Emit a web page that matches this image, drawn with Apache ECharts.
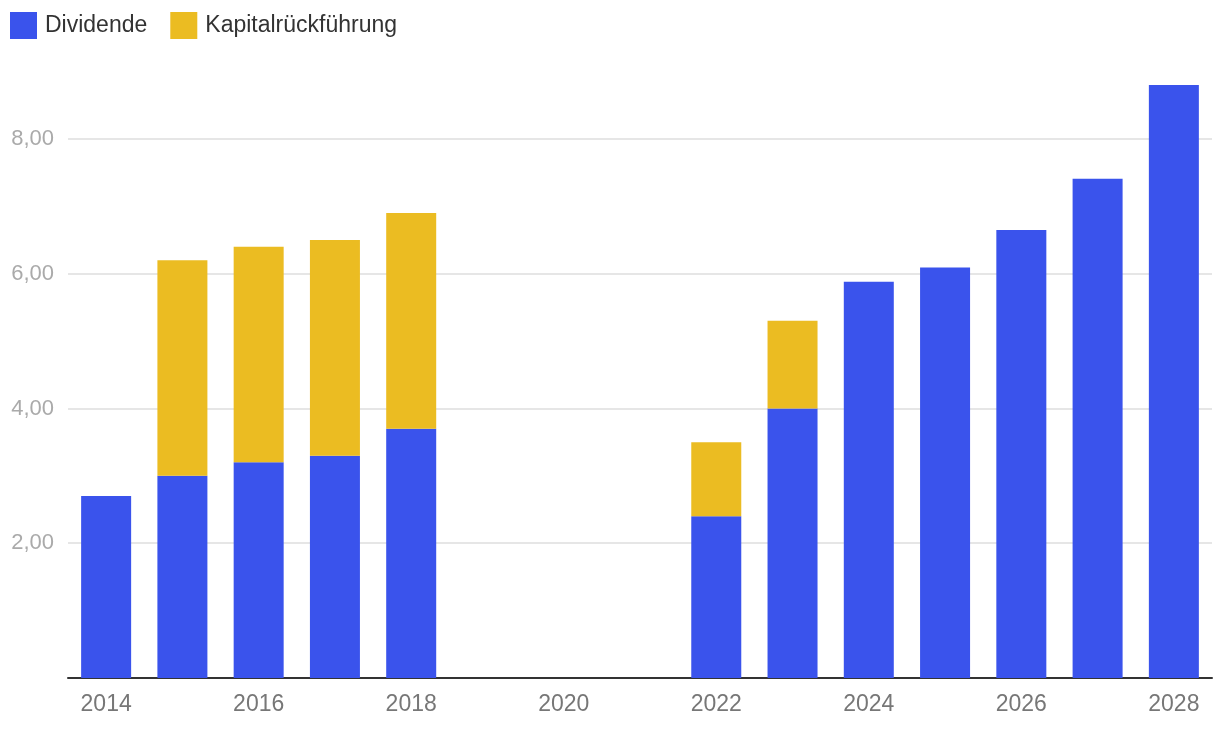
<!DOCTYPE html>
<html><head><meta charset="utf-8">
<script src="https://cdn.jsdelivr.net/npm/echarts@6/dist/echarts.min.js"></script>
<style>html,body{margin:0;padding:0;background:#fff}#c{width:1220px;height:732px}</style>
</head><body><div id="c"></div>
<script>
const years = ['2014','2015','2016','2017','2018','2019','2020','2021','2022','2023','2024','2025','2026','2027','2028'];
const dividende = [2.70, 3.00, 3.20, 3.30, 3.70, null, null, null, 2.40, 4.00, 5.88, 6.09, 6.65, 7.41, 8.80];
const kapital = [null, 3.20, 3.20, 3.20, 3.20, null, null, null, 1.10, 1.30, null, null, null, null, null];
const seriesNames = ['Dividende', 'Kapitalrückführung'];
const colors = ['#3a53ec', '#ebbc22'];
const font = '"Liberation Sans", Arial, Helvetica, sans-serif';

const chart = echarts.init(document.getElementById('c'), null, {renderer: 'canvas'});
chart.setOption({
  animation: false,
  color: colors,
  textStyle: {fontFamily: font},
  legend: {
    left: 10, top: 12, padding: 0, itemWidth: 27, itemHeight: 27, itemGap: 23,
    icon: 'rect',
    textStyle: {fontSize: 23, color: '#333', fontFamily: font, padding: [0, 0, 0, 3]},
    data: seriesNames
  },
  grid: {left: 68, right: 8, top: 85, bottom: 54, containLabel: false},
  xAxis: {
    type: 'category', data: years,
    axisLine: {lineStyle: {color: '#333', width: 2}},
    axisTick: {show: false},
    axisLabel: {interval: 1, color: '#777', fontSize: 23, margin: 15, fontFamily: font}
  },
  yAxis: {
    type: 'value', min: 0, max: 8.8, interval: 2,
    axisLine: {show: false}, axisTick: {show: false},
    splitLine: {show: true, showMaxLine: false, lineStyle: {color: '#e6e6e6', width: 2}},
    axisLabel: {
      showMinLabel: false, showMaxLabel: false,
      color: '#aaa', fontSize: 22, margin: 14, fontFamily: font,
      padding: [3, 0, 0, 0],
      formatter: v => v.toFixed(2).replace('.', ',')
    }
  },
  series: [
    {name: seriesNames[0], type: 'bar', stack: 't', data: dividende, barWidth: 50},
    {name: seriesNames[1], type: 'bar', stack: 't', data: kapital, barWidth: 50}
  ]
});
</script></body></html>
